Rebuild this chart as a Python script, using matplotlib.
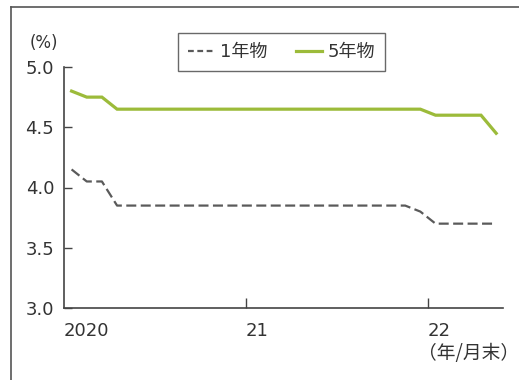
import matplotlib
matplotlib.use("Agg")
import matplotlib.pyplot as plt
from matplotlib.lines import Line2D

plt.rcParams['font.family'] = ['DejaVu Sans', 'Noto Sans CJK JP']

# Monthly LPR, Jan 2020 – May 2022 (month index 0 = Jan 2020)
months = list(range(29))
rate_1y = [4.15, 4.05, 4.05] + [3.85] * 20 + [3.80] + [3.70] * 5
rate_5y = [4.80, 4.75, 4.75] + [4.65] * 21 + [4.60] * 4 + [4.45]
year_ticks = [0, 12, 24]
year_labels = ["2020", "21", "22"]
y_ticks = [3.0, 3.5, 4.0, 4.5, 5.0]
series_names = ["1年物", "5年物"]

W, H = 519, 380
fig = plt.figure(figsize=(W / 100, H / 100), dpi=100)
ax = fig.add_axes([64 / W, 1 - 308 / H, (503 - 64) / W, (308 - 67) / H])

green = "#9cbb3a"
gray = "#5a5a5a"
axc = "#444444"
txt = "#333333"
dash = (0, (4.5, 2.0))

x = [m + 0.5 for m in months]
ax.plot(x, rate_1y, color=gray, lw=1.6, ls=dash, solid_capstyle="butt")
ax.plot(x, rate_5y, color=green, lw=2.3, solid_joinstyle="miter")

ax.set_xlim(0, 28.95)
ax.set_ylim(3.0, 5.0)
ax.set_yticks(y_ticks)
ax.set_yticklabels([f"{v:.1f}" for v in y_ticks])
ax.set_xticks(year_ticks)
ax.set_xticklabels(year_labels, ha="left")

for s in ["top", "right"]:
    ax.spines[s].set_visible(False)
for s in ["left", "bottom"]:
    ax.spines[s].set_color(axc)
    ax.spines[s].set_linewidth(1.2)

ax.tick_params(axis="y", direction="in", length=6, width=1.0, color=axc,
               labelsize=13, labelcolor=txt, pad=7)
ax.tick_params(axis="x", direction="in", length=7, width=1.0, color=axc,
               labelsize=13, labelcolor=txt, pad=10)
ax.xaxis.get_major_ticks()[0].tick1line.set_visible(False)

fig.text(30 / W, 1 - 43 / H, "(%)", fontsize=12, color=txt, va="center", ha="left")
fig.text(519 / W, 1 - 353 / H, "（年/月末）", fontsize=13.5, color=txt,
         va="center", ha="right", family=['Noto Sans CJK JP', 'DejaVu Sans'])

handles = [Line2D([], [], color=gray, lw=1.6, ls=(0, (2.6, 1.6))),
           Line2D([], [], color=green, lw=2.3)]
leg = ax.legend(handles, series_names, loc="upper left",
                bbox_to_anchor=((178 - 64) / (503 - 64), 1 + (67 - 33) / (308 - 67)),
                ncol=2, frameon=True, fancybox=False, fontsize=13,
                handlelength=1.45, handletextpad=0.3, columnspacing=1.6,
                borderpad=0.55, borderaxespad=0)
leg.get_frame().set_edgecolor(axc)
leg.get_frame().set_linewidth(1.0)
for t in leg.get_texts():
    t.set_color(txt)

# outer frame (top and left edges)
fig.add_artist(Line2D([11 / W, 1], [1 - 7 / H, 1 - 7 / H], color="#555555", lw=1.2,
                      transform=fig.transFigure))
fig.add_artist(Line2D([11 / W, 11 / W], [0, 1 - 7 / H], color="#555555", lw=1.2,
                      transform=fig.transFigure))

fig.savefig("out.png", dpi=100)
